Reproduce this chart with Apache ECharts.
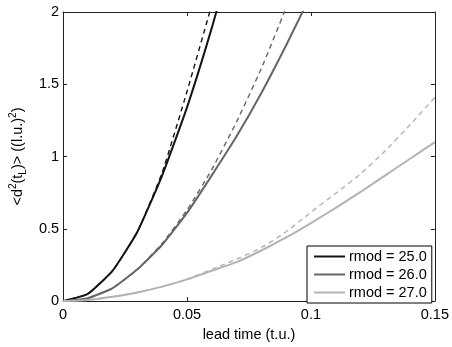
<!DOCTYPE html>
<html>
<head>
<meta charset="utf-8">
<script src="https://cdn.jsdelivr.net/npm/echarts@6/dist/echarts.min.js"></script>
<style>html,body{margin:0;padding:0;background:#fff}#c{width:452px;height:347px}</style>
</head>
<body>
<div id="c"></div>
<script>
// lead time (t.u.)
const leadTime = [0, 0.01, 0.02, 0.03, 0.04, 0.05, 0.06, 0.07, 0.08, 0.09, 0.10, 0.11, 0.12, 0.13, 0.14, 0.15];
// rmod = 25.0
const rmod25 = [0, 0.05, 0.21, 0.48, 0.87, 1.34, 1.89, 2.5];
const rmod25Dash = [0, 0.05, 0.21, 0.48, 0.89, 1.45, 2.05];
// rmod = 26.0
const rmod26 = [0, 0.02, 0.09, 0.22, 0.39, 0.61, 0.87, 1.14, 1.44, 1.77, 2.12];
const rmod26Dash = [0, 0.02, 0.09, 0.22, 0.40, 0.63, 0.91, 1.24, 1.61, 2.03];
// rmod = 27.0
const rmod27 = [0, 0.008, 0.03, 0.06, 0.10, 0.15, 0.21, 0.27, 0.35, 0.44, 0.54, 0.645, 0.755, 0.87, 0.985, 1.10];
const rmod27Dash = [0, 0.008, 0.03, 0.06, 0.10, 0.15, 0.22, 0.29, 0.37, 0.48, 0.615, 0.745, 0.88, 1.04, 1.22, 1.41];
const seriesNames = ['rmod = 25.0', 'rmod = 26.0', 'rmod = 27.0'];
const xTicks = [0, 0.05, 0.1, 0.15];
const yTicks = [0, 0.5, 1, 1.5, 2];

const colors = ['#141414', '#666666', '#b3b3b3'];
const FONT = "'Liberation Sans', Arial, sans-serif";
const FS = 14.5;

function pairs(vals) { return vals.map((v, i) => [leadTime[i], v]); }

function solid(name, vals, color) {
  return {
    name: name, type: 'line', data: pairs(vals), showSymbol: false, symbol: 'none', smooth: 0.15,
    color: color, lineStyle: { color: color, width: 2 }, z: 3
  };
}
function dashed(vals, color) {
  return {
    name: '_d' + color, type: 'line', data: pairs(vals), showSymbol: false, symbol: 'none', smooth: 0.15,
    color: color, lineStyle: { color: color, width: 1.4, type: [5, 4] }, z: 2
  };
}

const axisCommon = {
  type: 'value',
  axisLine: { show: true, onZero: false, lineStyle: { color: '#222', width: 1 } },
  axisTick: { show: true, inside: true, length: 4, lineStyle: { color: '#222' } },
  splitLine: { show: false }
};

const chart = echarts.init(document.getElementById('c'), null, { renderer: 'canvas' });
chart.setOption({
  animation: false,
  backgroundColor: '#fff',
  textStyle: { fontFamily: FONT },
  grid: { left: 62, right: 15, top: 12, bottom: 40, containLabel: false },
  xAxis: [
    Object.assign({}, axisCommon, {
      min: 0, max: 0.15, interval: 0.05, position: 'bottom',
      name: 'lead time (t.u.)', nameLocation: 'middle', nameGap: 22,
      nameTextStyle: { fontFamily: FONT, fontSize: FS, color: '#000' },
      axisLabel: { margin: 6, fontFamily: FONT, fontSize: FS, color: '#000',
        formatter: v => { const i = xTicks.findIndex(t => Math.abs(t - v) < 1e-9); return i >= 0 ? String(xTicks[i]) : ''; } }
    }),
    Object.assign({}, axisCommon, {
      min: 0, max: 0.15, interval: 0.05, position: 'top', axisLabel: { show: false }
    })
  ],
  yAxis: [
    Object.assign({}, axisCommon, {
      min: 0, max: 2, interval: 0.5, position: 'left',
      name: '<d{sup|2}(t{sub|L})> ((l.u.){sup|2})', nameLocation: 'middle', nameGap: 34, nameRotate: 90,
      nameTextStyle: { fontFamily: FONT, fontSize: FS, color: '#000', lineHeight: 20,
        rich: {
          sup: { fontFamily: FONT, fontSize: 10, color: '#000', verticalAlign: 'top', lineHeight: 20, padding: [0, 0, 6, 0] },
          sub: { fontFamily: FONT, fontSize: 10, color: '#000', verticalAlign: 'bottom', lineHeight: 20, padding: [6, 0, 0, 0] }
        } },
      axisLabel: { margin: 4, fontFamily: FONT, fontSize: FS, color: '#000',
        formatter: v => { const i = yTicks.findIndex(t => Math.abs(t - v) < 1e-9); return i >= 0 ? String(yTicks[i]) : ''; } }
    }),
    Object.assign({}, axisCommon, {
      min: 0, max: 2, interval: 0.5, position: 'right', axisLabel: { show: false }
    })
  ],
  legend: {
    data: seriesNames,
    orient: 'vertical',
    left: 307, top: 246,
    padding: [2, 5, 2, 7],
    itemGap: 1,
    itemWidth: 31, itemHeight: 2,
    icon: 'rect',
    backgroundColor: '#fff',
    borderColor: '#000', borderWidth: 1, borderRadius: 0,
    textStyle: { fontFamily: FONT, fontSize: FS, color: '#000', lineHeight: 17, padding: [0, 0, 0, -1] }
  },
  series: [
    dashed(rmod25Dash, colors[0]),
    dashed(rmod26Dash, colors[1]),
    dashed(rmod27Dash, colors[2]),
    solid(seriesNames[0], rmod25, colors[0]),
    solid(seriesNames[1], rmod26, colors[1]),
    solid(seriesNames[2], rmod27, colors[2])
  ]
});
</script>
</body>
</html>
